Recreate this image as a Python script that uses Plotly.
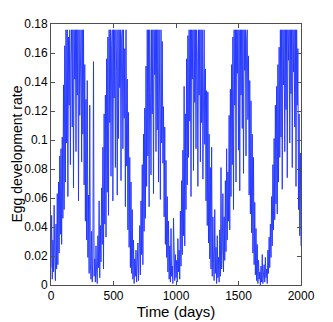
import plotly.graph_objects as go

day_step = 5
rate = [
    0.012, 0.048, 0.004, 0.031, 0.009, 0.055, 0.018, 0.003, 0.042, 0.011,
    0.063, 0.014, 0.071, 0.022, 0.089, 0.035, 0.094, 0.028, 0.102, 0.046,
    0.138, 0.052, 0.165, 0.071, 0.176, 0.098, 0.176, 0.061, 0.171, 0.124,
    0.176, 0.083, 0.158, 0.176, 0.109, 0.176, 0.067, 0.176, 0.142, 0.176,
    0.092, 0.176, 0.131, 0.176, 0.058, 0.176, 0.117, 0.169, 0.176, 0.085,
    0.176, 0.104, 0.176, 0.069, 0.152, 0.044, 0.128, 0.031, 0.141, 0.019,
    0.062, 0.008, 0.124, 0.015, 0.004, 0.037, 0.002, 0.021, 0.154, 0.006,
    0.018, 0.002, 0.027, 0.009, 0.001, 0.034, 0.012, 0.058, 0.005, 0.041,
    0.016, 0.067, 0.028, 0.095, 0.011, 0.118, 0.042, 0.131, 0.033, 0.156,
    0.064, 0.171, 0.048, 0.176, 0.112, 0.176, 0.075, 0.165, 0.176, 0.058,
    0.176, 0.129, 0.176, 0.081, 0.176, 0.147, 0.062, 0.176, 0.101, 0.176,
    0.136, 0.176, 0.072, 0.171, 0.176, 0.094, 0.176, 0.115, 0.163, 0.054,
    0.176, 0.082, 0.142, 0.038, 0.119, 0.026, 0.088, 0.012, 0.071, 0.008,
    0.052, 0.004, 0.031, 0.001, 0.018, 0.006, 0.024, 0.002, 0.011, 0.029,
    0.003, 0.016, 0.041, 0.007, 0.058, 0.021, 0.083, 0.014, 0.104, 0.037,
    0.122, 0.046, 0.151, 0.068, 0.176, 0.089, 0.176, 0.054, 0.176, 0.133,
    0.076, 0.176, 0.118, 0.176, 0.063, 0.176, 0.145, 0.176, 0.092, 0.176,
    0.107, 0.176, 0.071, 0.176, 0.139, 0.059, 0.176, 0.098, 0.168, 0.084,
    0.123, 0.047, 0.109, 0.028, 0.086, 0.019, 0.061, 0.009, 0.044, 0.004,
    0.027, 0.002, 0.039, 0.006, 0.013, 0.001, 0.046, 0.008, 0.003, 0.021,
    0.005, 0.017, 0.002, 0.032, 0.009, 0.024, 0.004, 0.051, 0.013, 0.072,
    0.021, 0.093, 0.034, 0.137, 0.027, 0.118, 0.052, 0.156, 0.069, 0.172,
    0.088, 0.176, 0.113, 0.176, 0.061, 0.176, 0.142, 0.176, 0.079, 0.176,
    0.126, 0.176, 0.094, 0.176, 0.157, 0.068, 0.176, 0.131, 0.176, 0.085,
    0.176, 0.112, 0.176, 0.073, 0.166, 0.176, 0.097, 0.149, 0.058, 0.134,
    0.041, 0.133, 0.029, 0.104, 0.018, 0.081, 0.011, 0.095, 0.006, 0.047,
    0.015, 0.003, 0.052, 0.008, 0.026, 0.001, 0.034, 0.005, 0.019, 0.002,
    0.038, 0.006, 0.081, 0.011, 0.024, 0.063, 0.009, 0.047, 0.017, 0.072,
    0.023, 0.094, 0.031, 0.078, 0.044, 0.117, 0.038, 0.135, 0.061, 0.152,
    0.083, 0.171, 0.052, 0.176, 0.124, 0.176, 0.071, 0.176, 0.146, 0.176,
    0.093, 0.176, 0.065, 0.176, 0.131, 0.176, 0.108, 0.176, 0.077, 0.176,
    0.148, 0.176, 0.089, 0.169, 0.176, 0.114, 0.158, 0.062, 0.141, 0.049,
    0.127, 0.036, 0.104, 0.022, 0.088, 0.014, 0.057, 0.007, 0.039, 0.003,
    0.028, 0.001, 0.017, 0.004, 0.009, 0.000, 0.013, 0.002, 0.021, 0.001,
    0.006, 0.014, 0.002, 0.019, 0.005, 0.011, 0.001, 0.024, 0.008, 0.033,
    0.012, 0.042, 0.019, 0.061, 0.027, 0.083, 0.038, 0.101, 0.045, 0.124,
    0.056, 0.137, 0.049, 0.152, 0.071, 0.164, 0.088, 0.176, 0.102, 0.176,
    0.066, 0.176, 0.138, 0.176, 0.092, 0.176, 0.121, 0.176, 0.074, 0.176,
    0.155, 0.176, 0.098, 0.176, 0.132, 0.176, 0.081, 0.176, 0.147, 0.176,
    0.109, 0.176, 0.068, 0.176, 0.124, 0.163, 0.052, 0.118, 0.034, 0.091,
    0.027,
]
days = [i * day_step for i in range(len(rate))]

x_ticks = [0, 500, 1000, 1500, 2000]
y_ticks = [0, 0.02, 0.04, 0.06, 0.08, 0.1, 0.12, 0.14, 0.16, 0.18]
y_labels = ["0", "0.02", "0.04", "0.06", "0.08", "0.1", "0.12", "0.14", "0.16", "0.18"]

fig = go.Figure()
fig.add_trace(go.Scatter(x=days, y=rate, mode="lines",
                         line=dict(color="#1e32ff", width=0.9),
                         showlegend=False))

axis_style = dict(showline=True, linecolor="#505050", linewidth=1, mirror="ticks",
                  ticks="inside", ticklen=4, tickcolor="#505050", showgrid=False,
                  zeroline=False, automargin=False,
                  tickfont=dict(size=12, color="black"))

fig.update_xaxes(range=[0, 2000], tickvals=x_ticks, ticktext=[str(v) for v in x_ticks],
                 title=dict(text="Time (days)", font=dict(size=15, color="black"), standoff=2),
                 **axis_style)
fig.update_yaxes(range=[0, 0.18], tickvals=y_ticks, ticktext=y_labels, **axis_style)

# y title as an annotation so it can sit close to the left edge
fig.add_annotation(text="Egg development rate", textangle=-90, showarrow=False,
                   xref="paper", yref="paper", x=0, y=0.5,
                   xanchor="center", yanchor="middle", xshift=-35,
                   font=dict(size=14, color="black"))

# the page body adds an 8px offset, so margins are shifted to compensate
fig.update_layout(width=333, height=322, margin=dict(l=43, r=40, t=16, b=45),
                  plot_bgcolor="white", paper_bgcolor="white",
                  font=dict(family="Liberation Sans, Arial, sans-serif"))

fig.write_html("out.html")
